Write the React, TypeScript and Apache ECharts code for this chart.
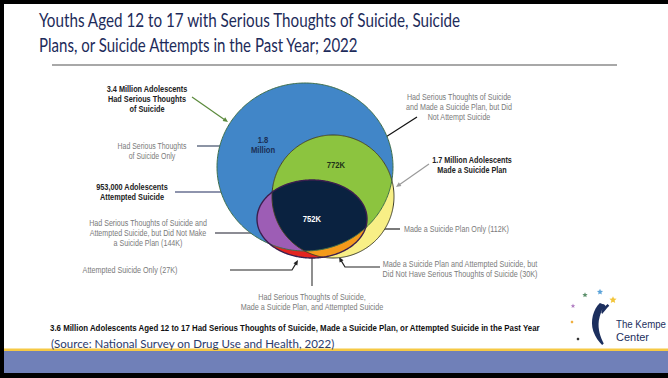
import React, { useEffect, useRef } from "react";
import * as echarts from "echarts";

// ---------- data ----------
const titleLines = [
  "Youths Aged 12 to 17 with Serious Thoughts of Suicide, Suicide",
  "Plans, or Suicide Attempts in the Past Year; 2022",
];
const regionNames = [
  "Had Serious Thoughts of Suicide Only",
  "Made a Suicide Plan Only",
  "Serious Thoughts and Plan, No Attempt",
  "Attempted Suicide Only",
  "Serious Thoughts and Attempt, No Plan",
  "Plan and Attempt, No Serious Thoughts",
  "Serious Thoughts, Plan and Attempt",
];
const regionValuesK = [1800, 112, 772, 27, 144, 30, 752];
const setTotals = ["3.4 Million", "1.7 Million", "953,000"];
const footnote =
  "3.6 Million Adolescents Aged 12 to 17 Had Serious Thoughts of Suicide, Made a Suicide Plan, or Attempted Suicide in the Past Year";
const sourceText = "(Source: National Survey on Drug Use and Health, 2022)";

// ---------- geometry / styles ----------
type Ell = { cx: number; cy: number; rx: number; ry: number };
const SETS: Record<string, Ell> = {
  T: { cx: 305, cy: 167, rx: 88, ry: 84 },
  P: { cx: 333, cy: 196.5, rx: 61, ry: 61.5 },
  A: { cx: 312, cy: 219, rx: 55, ry: 39 },
};
const REGION_SETS = [["T"], ["P"], ["T", "P"], ["A"], ["T", "A"], ["P", "A"], ["T", "P", "A"]];
const REGION_COLORS = ["#4186c8", "#f8ef86", "#8cc43f", "#e3241f", "#9d5db5", "#f39a1b", "#0a2240"];
const LABEL_POS: Record<number, { x: number; y: number; color: string }> = {
  0: { x: 263, y: 145, color: "#1b2f55" },
  2: { x: 336, y: 165, color: "#1f3318" },
  6: { x: 312, y: 219, color: "#ffffff" },
};
const OUTLINES = [
  { key: "T", color: "#3f6f4a", w: 1 },
  { key: "P", color: "#3d3d2a", w: 1 },
  { key: "A", color: "#3a1f4f", w: 1.4 },
];
const ARIAL = "Liberation Sans";
const GRAY = "#7a7a7a";

let measureCtx: CanvasRenderingContext2D | null = null;
function textWidth(text: string, size: number, family: string, bold: boolean) {
  if (!measureCtx) measureCtx = document.createElement("canvas").getContext("2d");
  if (!measureCtx) return 1;
  measureCtx.font = `${bold ? "bold " : ""}${size}px "${family}"`;
  return Math.max(...text.split("\n").map((l) => measureCtx!.measureText(l).width));
}

function inside(e: Ell, x: number, y: number) {
  const dx = (x - e.cx) / e.rx;
  const dy = (y - e.cy) / e.ry;
  return dx * dx + dy * dy <= 1.0001;
}
function boundary(e: Ell, n = 360) {
  const pts: number[][] = [];
  for (let i = 0; i < n; i++) {
    const a = (i / n) * Math.PI * 2;
    pts.push([e.cx + e.rx * Math.cos(a), e.cy + e.ry * Math.sin(a)]);
  }
  return pts;
}
function intersect(list: Ell[]) {
  const pts: number[][] = [];
  list.forEach((e, i) =>
    boundary(e).forEach((p) => {
      if (list.every((o, j) => j === i || inside(o, p[0], p[1]))) pts.push(p);
    })
  );
  if (!pts.length) return pts;
  const cx = pts.reduce((s, p) => s + p[0], 0) / pts.length;
  const cy = pts.reduce((s, p) => s + p[1], 0) / pts.length;
  pts.sort((a, b) => Math.atan2(a[1] - cy, a[0] - cx) - Math.atan2(b[1] - cy, b[0] - cx));
  return pts;
}
function fmtVal(v: number) {
  return v >= 1000 ? (v / 1000).toFixed(1) + "\nMillion" : v + "K";
}

function arrow(points: number[][], color: string, width = 1, head = 5): any[] {
  const n = points.length;
  const [x1, y1] = points[n - 2];
  const [x2, y2] = points[n - 1];
  const len = Math.hypot(x2 - x1, y2 - y1);
  const dx = (x2 - x1) / len;
  const dy = (y2 - y1) / len;
  const bx = x2 - dx * head;
  const by = y2 - dy * head;
  const w = head * 0.45;
  const shaft = points.slice(0, n - 1).concat([[bx + dx * 0.5, by + dy * 0.5]]);
  return [
    { type: "polyline", silent: true, shape: { points: shaft }, style: { stroke: color, lineWidth: width, fill: null } },
    {
      type: "polygon",
      silent: true,
      shape: { points: [[x2, y2], [bx - dy * w, by + dx * w], [bx + dy * w, by - dx * w]] },
      style: { fill: color },
    },
  ];
}
function txt(x: number, y: number, text: string, o: any = {}): any {
  const size = o.size || 9;
  const family = o.family || ARIAL;
  const bold = !!o.bold;
  const scaleX = o.fit ? o.fit / textWidth(text, size, family, bold) : 1;
  return {
    type: "text",
    silent: true,
    x,
    y,
    scaleX,
    style: {
      text,
      fill: o.fill || GRAY,
      fontSize: size,
      fontFamily: family,
      fontWeight: bold ? "bold" : "normal",
      align: o.align || "center",
      verticalAlign: o.va || "top",
      lineHeight: o.lh || 10,
    },
  };
}
function star(cx: number, cy: number, r: number, color: string): any {
  const pts: number[][] = [];
  for (let i = 0; i < 10; i++) {
    const a = -Math.PI / 2 + (i * Math.PI) / 5;
    const rr = i % 2 === 0 ? r : r * 0.45;
    pts.push([cx + rr * Math.cos(a), cy + rr * Math.sin(a)]);
  }
  return { type: "polygon", silent: true, shape: { points: pts }, style: { fill: color } };
}

echarts.graphic.registerShape(
  "kempeFigure",
  echarts.graphic.extendPath(
    "M 9 0 C 3 6, 0 17, 3 27 C 5 33, 8 37, 11 40 L 12.5 38.5 C 9.5 33, 7 25, 8 17 C 9 11, 11 6, 13.5 2 Z M 10 8 C 12 5, 14 3, 16 1 L 17.5 2.5 C 15 5, 13 8, 11 10.5 Z",
    {}
  ) as any
);

export default function App() {
  const ref = useRef<HTMLDivElement>(null);
  useEffect(() => {
    if (!ref.current) return;
    const chart = echarts.init(ref.current, undefined, { renderer: "svg" });

    const graphics: any[] = [
      // frame
      { type: "rect", silent: true, shape: { x: 0, y: 0, width: 4, height: 378 }, style: { fill: "#000" } },
      { type: "rect", silent: true, shape: { x: 0, y: 0, width: 668, height: 4 }, style: { fill: "#000" } },
      { type: "rect", silent: true, shape: { x: 0, y: 373, width: 668, height: 5 }, style: { fill: "#000" } },
      { type: "rect", silent: true, shape: { x: 4, y: 348.5, width: 664, height: 2.5 }, style: { fill: "#f6c944" } },
      { type: "rect", silent: true, shape: { x: 4, y: 351, width: 664, height: 22 }, style: { fill: "#7080b8" } },
      // title
      txt(39, 9, titleLines[0], { fill: "#1d2b5a", size: 19.5, lh: 22, align: "left", family: "Lato", fit: 423 }),
      txt(39, 34, titleLines[1], { fill: "#1d2b5a", size: 19.5, lh: 22, align: "left", family: "Lato", fit: 320 }),
      { type: "line", silent: true, shape: { x1: 52, y1: 65, x2: 617, y2: 65 }, style: { stroke: "#a8a8a8", lineWidth: 2 } },
      // callout texts
      txt(147, 84, setTotals[0] + " Adolescents\nHad Serious Thoughts\nof Suicide", { bold: true, fill: "#222", fit: 81 }),
      txt(152, 141, "Had Serious Thoughts\nof Suicide Only", { fit: 69 }),
      txt(132, 182, setTotals[2] + " Adolescents\nAttempted Suicide", { bold: true, fill: "#222", fit: 72 }),
      txt(148, 218, `Had Serious Thoughts of Suicide and\nAttempted Suicide, but Did Not Make\na Suicide Plan (${regionValuesK[4]}K)`, { fit: 118 }),
      txt(130, 270, `Attempted Suicide Only (${regionValuesK[3]}K)`, { va: "middle", fit: 95 }),
      txt(312, 292, "Had Serious Thoughts of Suicide,\nMade a Suicide Plan, and Attempted Suicide", { fit: 143 }),
      txt(459, 92, "Had Serious Thoughts of Suicide\nand Made a Suicide Plan, but Did\nNot Attempt Suicide", { fit: 106 }),
      txt(472, 155, setTotals[1] + " Adolescents\nMade a Suicide Plan", { bold: true, fill: "#222", fit: 80 }),
      txt(404, 229, `Made a Suicide Plan Only (${regionValuesK[1]}K)`, { align: "left", va: "middle", fit: 105 }),
      txt(460, 259, `Made a Suicide Plan and Attempted Suicide, but\nDid Not Have Serious Thoughts of Suicide (${regionValuesK[5]}K)`, { fit: 155 }),
      // arrows
      ...arrow([[192, 97], [228, 122]], "#5b8a3c", 1.2),
      ...arrow([[197, 146], [245, 146]], "#1a2a4a", 1.2),
      ...arrow([[175, 192], [233, 192], [259, 207]], "#1f2a5c", 1.2),
      ...arrow([[215, 233], [276, 233]], "#1a1a2a", 1.2),
      ...arrow([[230, 270], [292, 270], [298, 260]], "#222", 1.2),
      { type: "line", silent: true, shape: { x1: 312, y1: 286, x2: 312, y2: 257 }, style: { stroke: "#444", lineWidth: 1.2 } },
      ...arrow([[312, 257], [312, 228]], "#e8e8e8", 1.2),
      ...arrow([[417, 117], [350, 160]], "#111", 1.2),
      ...arrow([[429, 164], [396, 187]], "#9a9a9a", 1.2),
      ...arrow([[400, 229], [373, 229]], "#222", 1.2),
      ...arrow([[380, 267], [345, 267], [339, 257]], "#222", 1.2),
      // footnote + source
      txt(50, 328, footnote, { bold: true, fill: "#111", size: 9.5, align: "left", va: "middle", fit: 491 }),
      txt(51, 344, sourceText, { fill: "#2b3a6b", size: 10.5, align: "left", va: "middle", family: "Lato", fit: 284 }),
      // logo
      star(585, 295, 2.8, "#5b8f6a"),
      star(600, 292, 3.2, "#5ba3d9"),
      star(613, 300, 3.8, "#f3c53a"),
      star(573, 306, 2.4, "#b07cc1"),
      { type: "circle", silent: true, shape: { cx: 572, cy: 322, r: 1.3 }, style: { fill: "#f0b040" } },
      { type: "circle", silent: true, shape: { cx: 578, cy: 339, r: 1.3 }, style: { fill: "#333" } },
      { type: "circle", silent: true, shape: { cx: 603, cy: 307, r: 2.7 }, style: { fill: "#1c2f5e" } },
      { type: "kempeFigure", silent: true, x: 590, y: 303, scaleX: 1.1, scaleY: 1.05, style: { fill: "#1c2f5e" } },
      txt(616, 324, "The Kempe", { fill: "#1c2f5e", size: 11, lh: 12, align: "left", va: "middle", fit: 50 }),
      txt(616, 337, "Center", { fill: "#1c2f5e", size: 11, lh: 12, align: "left", va: "middle" }),
    ];

    chart.setOption({
      animation: false,
      backgroundColor: "#ffffff",
      grid: { left: 0, right: 0, top: 0, bottom: 0 },
      xAxis: { type: "value", min: 0, max: 668, show: false },
      yAxis: { type: "value", min: 0, max: 378, inverse: true, show: false },
      series: [
        {
          type: "custom",
          name: "regions",
          clip: false,
          silent: true,
          data: regionValuesK.map((v, i) => ({ name: regionNames[i], value: [i, v] })),
          renderItem: (params: any, api: any) => {
            const i = params.dataIndex;
            const pts = intersect(REGION_SETS[i].map((k) => SETS[k])).map((p) => api.coord(p));
            return { type: "polygon", shape: { points: pts }, style: { fill: REGION_COLORS[i] } };
          },
        },
        {
          type: "custom",
          name: "outlines",
          clip: false,
          silent: true,
          data: OUTLINES.map((o, i) => [i, 0]),
          renderItem: (params: any, api: any) => {
            const o = OUTLINES[params.dataIndex];
            const pts = boundary(SETS[o.key]).map((p) => api.coord(p));
            return { type: "polygon", shape: { points: pts }, style: { fill: "none", stroke: o.color, lineWidth: o.w } };
          },
        },
        {
          type: "custom",
          name: "values",
          clip: false,
          silent: true,
          data: regionValuesK.map((v, i) => ({ name: regionNames[i], value: [i, v] })),
          renderItem: (params: any, api: any) => {
            const i = params.dataIndex;
            const lp = LABEL_POS[i];
            if (!lp) return null;
            const [x, y] = api.coord([lp.x, lp.y]);
            return {
              type: "text",
              x,
              y,
              scaleX: 0.85,
              style: {
                text: fmtVal(regionValuesK[i]),
                fill: lp.color,
                fontSize: 9,
                fontWeight: "bold",
                fontFamily: ARIAL,
                align: "center",
                verticalAlign: "middle",
                lineHeight: 10,
              },
            };
          },
        },
      ],
      graphic: graphics,
    });
    return () => chart.dispose();
  }, []);
  return <div ref={ref} style={{ position: "fixed", left: 0, top: 0, width: 668, height: 378 }} />;
}
